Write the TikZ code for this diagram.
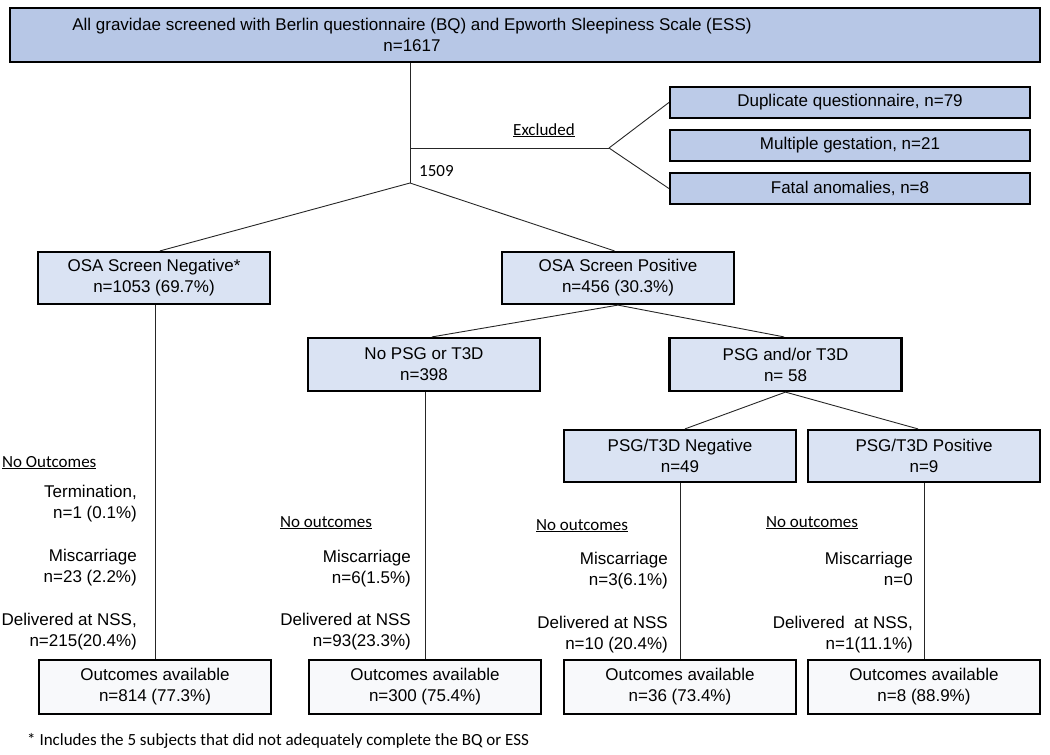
\documentclass[tikz,border=0pt]{standalone}
\usepackage{fontspec}
\setmainfont{Liberation Sans}
\newfontfamily\calfont{Carlito}
\definecolor{topblue}{HTML}{B7C7E6}
\definecolor{exblue}{HTML}{BCCBE8}
\definecolor{midblue}{HTML}{DAE3F3}
\definecolor{outwhite}{HTML}{F8F9FB}
\begin{document}
\begin{tikzpicture}[x=1pt,y=-1pt,
  box/.style={draw=black, line width=2.2pt, align=center, inner sep=0pt,
    font=\fontsize{17}{21}\selectfont},
  boxtext/.style={align=center, inner sep=0pt, font=\fontsize{17}{21}\selectfont},
  topbox/.style={box, fill=topblue, line width=2.8pt, minimum width=1030pt, minimum height=54pt},
  exbox/.style={box, fill=exblue, minimum width=360pt, minimum height=31pt},
  midbox/.style={box, fill=midblue, minimum width=232pt, minimum height=52pt},
  outbox/.style={box, fill=outwhite, minimum width=232pt, minimum height=54pt},
  conn/.style={line width=0.9pt, draw=black!85},
  side/.style={anchor=north east, align=right, inner sep=0pt,
    font=\fontsize{17}{21}\selectfont},
  note/.style={anchor=base west, inner sep=0pt, font=\calfont\fontsize{17}{21}\selectfont}]
\useasboundingbox (0,0) rectangle (1050,755);

% boxes
\node[topbox] (top) at (525,35) {};
\node[boxtext] (toptext) at (412,35) {All gravidae screened with Berlin questionnaire (BQ) and Epworth Sleepiness Scale (ESS)\\n=1617};
\node[exbox] (dup) at (850,102.5) {Duplicate questionnaire, n=79};
\node[exbox] (mult) at (850,145.5) {Multiple gestation, n=21};
\node[exbox] (fatal) at (850,188.5) {Fatal anomalies, n=8};
\node[midbox] (osaneg) at (154,278) {OSA Screen Negative*\\n=1053 (69.7\%)};
\node[midbox] (osapos) at (618,278) {OSA Screen Positive\\n=456 (30.3\%)};
\node[midbox, minimum height=53pt] (nopsg) at (424,364.5) {No PSG or T3D\\n=398};
\node[midbox, minimum height=53pt] (psg) at (785.5,364.5) {PSG and/or T3D\\n= 58};
\node[midbox] (pneg) at (680,456) {PSG/T3D Negative\\n=49};
\node[midbox] (ppos) at (924,456) {PSG/T3D Positive\\n=9};
\node[outbox] (out1) at (155,687) {Outcomes available\\n=814 (77.3\%)};
\node[outbox] (out2) at (425,687) {Outcomes available\\n=300 (75.4\%)};
\node[outbox] (out3) at (680,687) {Outcomes available\\n=36 (73.4\%)};
\node[outbox] (out4) at (924,687) {Outcomes available\\n=8 (88.9\%)};

% connectors
\coordinate (split) at (410,183);
\coordinate (exbr) at (609,148);
\draw[conn] (top.south -| split) -- (split);
\draw[conn] (split |- exbr) -- (exbr);
\draw[conn] (exbr) -- (dup.west);
\draw[conn] (exbr) -- (fatal.west);
\draw[conn] (split) -- ([xshift=6pt]osaneg.north);
\draw[conn] (split) -- ([xshift=-3.5pt]osapos.north);
\draw[conn] (osapos.south) -- ([xshift=8pt]nopsg.north);
\draw[conn] (osapos.south) -- ([xshift=-1.5pt]psg.north);
\draw[conn] (psg.south) -- ([xshift=5pt]pneg.north);
\draw[conn] (psg.south) -- ([xshift=-6pt]ppos.north);
\draw[conn] (out1.north |- osaneg.south) -- (out1.north);
\draw[conn] (out2.north |- nopsg.south) -- (out2.north);
\draw[conn] (out3.north |- pneg.south) -- (out3.north);
\draw[conn] (out4.north |- ppos.south) -- (out4.north);

% labels
\node[note] (exlbl) at (513,135) {\underline{Excluded}};
\node[note] (n1509) at (419,176) {1509};

% column 1
\node[note] (no1) at (2,467) {\underline{No Outcomes}};
\node[side] (t1) at (137,485) {Termination,\\n=1 (0.1\%)};
\node[side] (m1) at (137,549) {Miscarriage\\n=23 (2.2\%)};
\node[side] (d1) at (137,613) {Delivered at NSS,\\n=215(20.4\%)};
% column 2
\node[note] (no2) at (280,527) {\underline{No outcomes}};
\node[side] (m2) at (411,550) {Miscarriage\\n=6(1.5\%)};
\node[side] (d2) at (411,613) {Delivered at NSS\\n=93(23.3\%)};
% column 3
\node[note] (no3) at (536,530) {\underline{No outcomes}};
\node[side] (m3) at (668,552) {Miscarriage\\n=3(6.1\%)};
\node[side] (d3) at (668,616) {Delivered at NSS\\n=10 (20.4\%)};
% column 4
\node[note] (no4) at (766,527) {\underline{No outcomes}};
\node[side] (m4) at (913,552) {Miscarriage\\n=0};
\node[side] (d4) at (913,616) {Delivered\ \ at NSS,\\n=1(11.1\%)};

% footnote
\node[note] (foot) at (27,745) {* Includes the 5 subjects that did not adequately complete the BQ or ESS};
\end{tikzpicture}
\end{document}
